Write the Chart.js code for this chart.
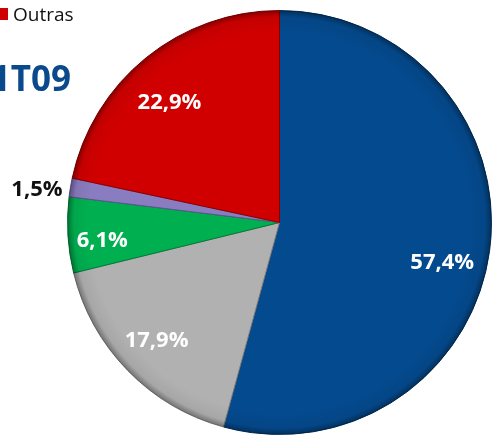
<!DOCTYPE html>
<html>
<head>
<meta charset="utf-8">
<script src="https://cdn.jsdelivr.net/npm/chart.js@4/dist/chart.umd.min.js"></script>
<style>
  html, body { margin: 0; padding: 0; background: #ffffff; overflow: hidden; }
  #wrap { position: relative; width: 495px; height: 437px; }
</style>
</head>
<body>
<div id="wrap"><canvas id="c" width="495" height="437"></canvas></div>
<script>
// ---- data ----
const categories = ["Categoria 1", "Categoria 2", "Categoria 3", "Categoria 4", "Outras"];
const values = [57.4, 17.9, 6.1, 1.5, 22.9];
const valueLabels = ["57,4%", "17,9%", "6,1%", "1,5%", "22,9%"];
const periodTitle = "1T09";
const legendShown = ["Outras"];

// ---- styles ----
const sliceColors = ["#044a8e", "#b1b1b1", "#00b050", "#8a7cc0", "#d00000"];
const sliceBorders = ["#022f5c", "#7a7a7a", "#007a36", "#5e5290", "#8a0000"];
const labelColors = ["#ffffff", "#ffffff", "#ffffff", "#111111", "#ffffff"];
const labelRadius = [0.79, 0.80, 0.84, 1.155, 0.77];
const labelAngleShift = [6, 0.7, -2.2, -1.6, -3.4]; // degrees

const overlayPlugin = {
  id: 'overlay',
  afterDatasetsDraw(chart) {
    const ctx = chart.ctx;
    const meta = chart.getDatasetMeta(0);
    const a0 = meta.data[0];
    const cx = a0.x, cy = a0.y, R = a0.outerRadius;
    // rim shading
    ctx.save();
    ctx.beginPath();
    ctx.arc(cx, cy, R, 0, Math.PI * 2);
    ctx.clip();
    const g = ctx.createRadialGradient(cx, cy, R * 0.9, cx, cy, R);
    g.addColorStop(0, 'rgba(0,0,0,0)');
    g.addColorStop(0.7, 'rgba(0,0,0,0.06)');
    g.addColorStop(1, 'rgba(0,0,0,0.35)');
    ctx.fillStyle = g;
    ctx.fillRect(cx - R, cy - R, 2 * R, 2 * R);
    ctx.restore();

    // value labels
    ctx.save();
    ctx.font = 'bold 22px "Open Sans", sans-serif';
    ctx.textAlign = 'center';
    ctx.textBaseline = 'middle';
    meta.data.forEach((arc, i) => {
      const mid = (arc.startAngle + arc.endAngle) / 2 + labelAngleShift[i] * Math.PI / 180;
      const r = arc.outerRadius * labelRadius[i];
      ctx.fillStyle = labelColors[i];
      ctx.fillText(valueLabels[i], arc.x + Math.cos(mid) * r, arc.y + Math.sin(mid) * r + 1);
    });
    ctx.restore();

    // title
    ctx.save();
    ctx.font = 'bold 35px "Open Sans", sans-serif';
    ctx.fillStyle = '#0a4a8c';
    ctx.textAlign = 'right';
    ctx.textBaseline = 'alphabetic';
    ctx.fillText(periodTitle, 71, 91);
    ctx.restore();

    // partial legend
    ctx.save();
    legendShown.forEach((name) => {
      const idx = categories.indexOf(name);
      ctx.fillStyle = sliceColors[idx];
      ctx.fillRect(-3, 8, 11, 12);
      ctx.fillStyle = '#111111';
      ctx.font = '19px "Open Sans", sans-serif';
      ctx.textAlign = 'left';
      ctx.textBaseline = 'alphabetic';
      ctx.fillText(name, 13, 21);
    });
    ctx.restore();
  }
};

new Chart(document.getElementById('c'), {
  type: 'pie',
  data: {
    labels: categories,
    datasets: [{
      data: values,
      backgroundColor: sliceColors,
      borderColor: sliceBorders,
      borderWidth: 1
    }]
  },
  options: {
    responsive: false,
    animation: false,
    layout: { padding: { left: 67, right: 3, top: 10, bottom: 2 } },
    plugins: {
      legend: { display: false },
      tooltip: { enabled: false }
    }
  },
  plugins: [overlayPlugin]
});
</script>
</body>
</html>
